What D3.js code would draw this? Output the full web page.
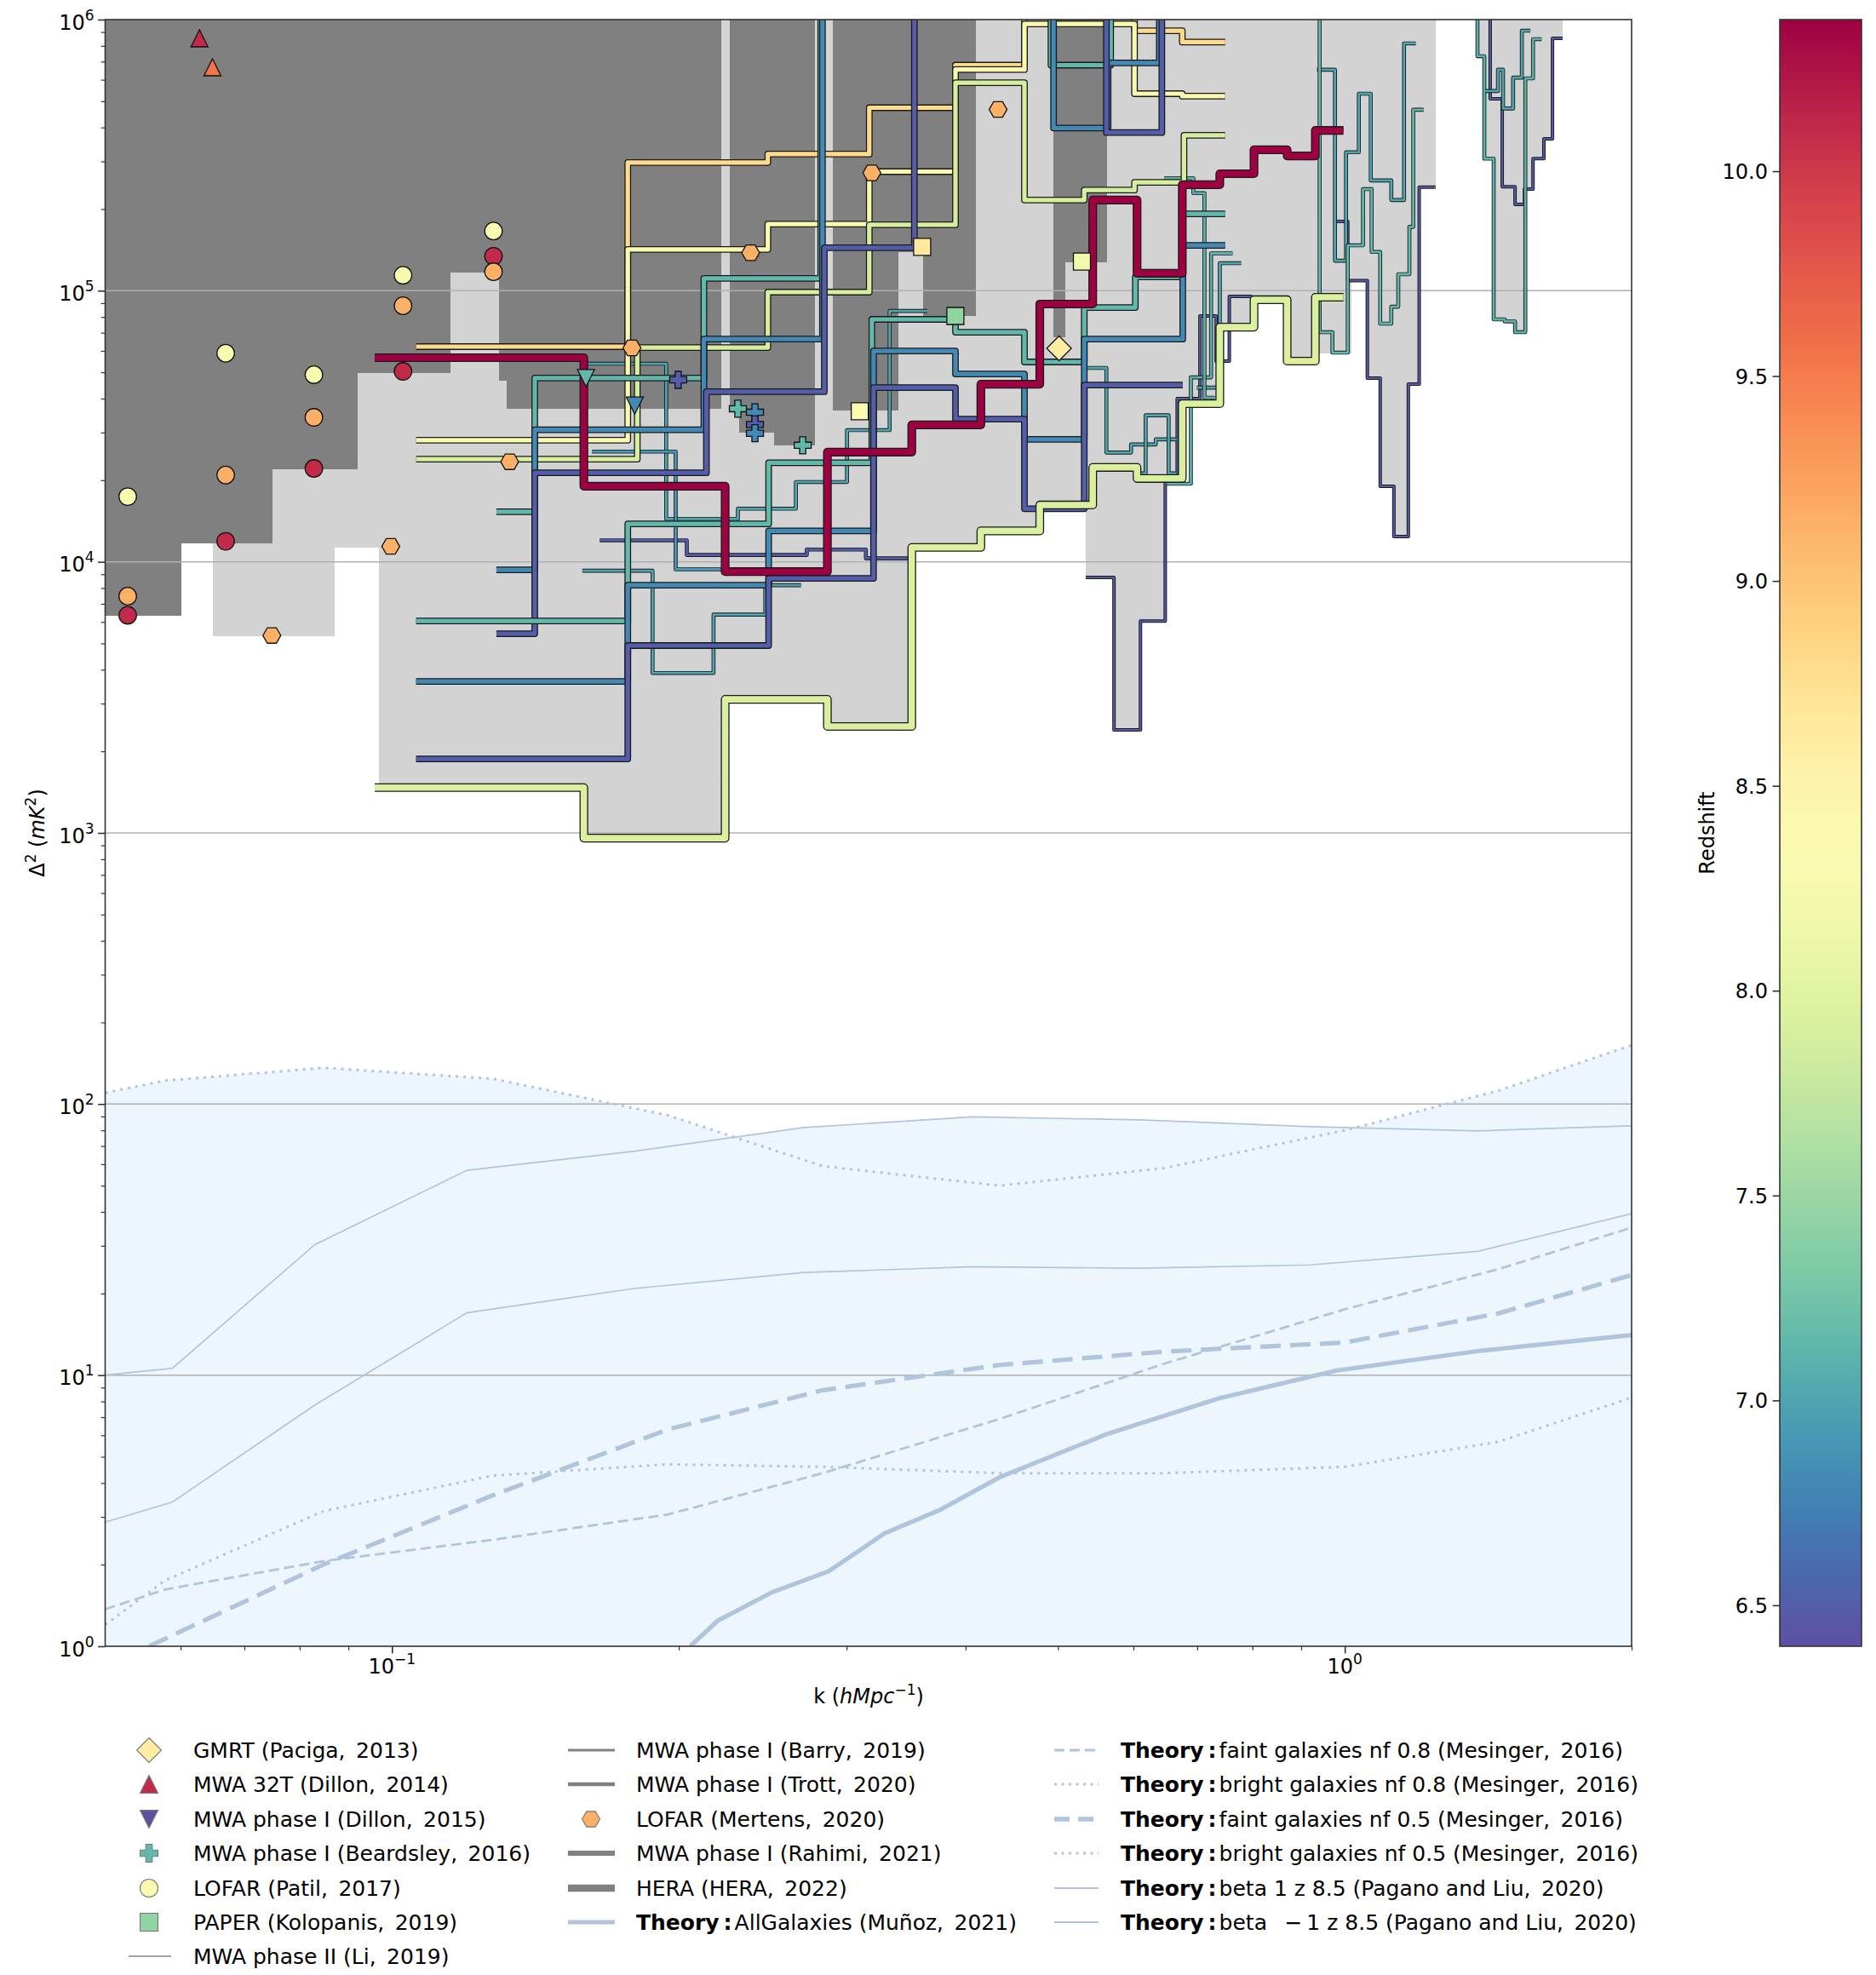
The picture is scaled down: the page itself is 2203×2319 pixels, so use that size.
<!DOCTYPE html>
<html>
<head>
<meta charset="utf-8">
<script src="https://cdn.jsdelivr.net/npm/d3@7"></script>
<style>
  body { margin: 0; background: #fff; }
  text { font-family: "DejaVu Sans", sans-serif; fill: #000; }
</style>
</head>
<body>
<svg id="chart"></svg>
<script>
// ---------------- data (k in h/Mpc, Delta^2 in mK^2) ----------------

// HERA 2022: shared k bin edges, two redshifts
const heraEdges = [0.0959, 0.159, 0.2237, 0.2864, 0.3512, 0.415, 0.4785, 0.5438, 0.6053, 0.6752, 0.7393, 0.803, 0.87, 0.9313, 0.9968];
const heraZ = [10.37, 7.93];
const heraHighZ = [5.66e4, 1.9e4, 9.2e3, 2.54e4, 3.2e4, 4.52e4, 8.93e4, 2.16e5, 1.16e5, 2.46e5, 2.7e5, 3.31e5, 3.14e5, 3.9e5];
const heraLowZ = [1.47e3, 957, 3.11e3, 2.47e3, 1.13e4, 1.3e4, 1.62e4, 2.23e4, 2.03e4, 3.83e4, 7.34e4, 9.26e4, 5.5e4, 9.46e4];

// MWA phase I (Rahimi, 2021): step limits, k = bin edges
const rahimiLines = [
  { z: 8.8,  k: [0.106, 0.1768, 0.248, 0.3169, 0.3903, 0.4611, 0.6016, 0.6752, 0.749], d2: [6.22e4, 2.97e5, 3.19e5, 4.73e5, 6.79e5, 1.5e6, 9.1e5, 8.26e5] },
  { z: 8.35, k: [0.106, 0.1768, 0.248, 0.3169, 0.3903, 0.4611, 0.6016, 0.6752, 0.749], d2: [2.81e4, 1.42e5, 1.76e5, 2.75e5, 6.54e5, 9.64e5, 5.33e5, 5.22e5] },
  { z: 7.9,  k: [0.106, 0.1809, 0.248, 0.3169, 0.3903, 0.4611, 0.5328, 0.6016, 0.678, 0.749], d2: [2.39e4, 6.17e4, 9.88e4, 1.75e5, 5.85e5, 2.16e5, 2.35e5, 2.51e5, 3.74e5] },
  { z: 7.15, k: [0.1287, 0.1412, 0.2125, 0.2818, 0.4916, 0.5679, 0.6016], d2: [1.53e4, 4.76e4, 1.11e5, 1.5e6, 6.79e5, 1.5e6] },
  { z: 6.8,  k: [0.1287, 0.1412, 0.2125, 0.283, 0.304], d2: [9.34e3, 3.07e4, 6.63e4, 1.5e6] },
  { z: 6.5,  k: [0.1287, 0.1412, 0.2138, 0.2843, 0.3534, 0.3737], d2: [5.43e3, 2.13e4, 4.24e4, 1.44e5, 1.5e6] },
  { z: 7.15, k: [0.106, 0.1768, 0.2485, 0.3189, 0.3903, 0.4611, 0.5328, 0.6028, 0.676, 0.749], d2: [6.05e3, 1.38e4, 2.32e4, 7.84e4, 7.03e4, 5.46e4, 8.67e4, 1.125e5, 1.92e5] },
  { z: 6.8,  k: [0.106, 0.1768, 0.2485, 0.3202, 0.3903, 0.4611, 0.5328, 0.676, 0.749], d2: [3.62e3, 8.2e3, 1.3e4, 5.99e4, 4.93e4, 2.83e4, 6.63e4, 1.47e5] },
  { z: 6.5,  k: [0.106, 0.1768, 0.2485, 0.3202, 0.3903, 0.4611, 0.5328, 0.676], d2: [1.875e3, 4.91e3, 8.69e3, 4.39e4, 3.36e4, 1.57e4, 4.49e4] },
  { z: 6.8,  k: [0.485, 0.4947, 0.5644, 0.6387, 0.65], d2: [1.5e6, 3.98e5, 6.92e5, 1.5e6] },
  { z: 6.5,  k: [0.55, 0.5621, 0.6427, 0.655], d2: [1.5e6, 3.83e5, 1.5e6] }
];

// MWA phase I (Trott, 2020 / Barry, 2019): thinner step limits
const trottLines = [
  { z: 7.0,  k: [0.1605, 0.194, 0.2307, 0.2654, 0.3003, 0.3329, 0.3646], d2: [5.38e4, 1.44e4, 1.57e4, 1.97e4, 3.06e4, 8.42e4] },
  { z: 6.5,  k: [0.1652, 0.2039, 0.2725, 0.3143, 0.3491], d2: [1.2e4, 1.06e4, 1.11e4, 1.03e4] },
  { z: 7.0,  k: [0.1584, 0.1877, 0.2175, 0.2465, 0.2687], d2: [9.27e3, 3.89e3, 6.39e3, 8.2e3] },
  { z: 6.9,  k: [0.1622, 0.1985, 0.2228], d2: [2.55e4, 9.38e3] },
  { z: 7.1,  k: [0.6506, 0.6894, 0.7239, 0.7626], d2: [1.94e4, 4.79e4, 1.373e5] },
  { z: 7.0,  k: [0.6994, 0.7393, 0.7785], d2: [4.39e4, 1.263e5] },
  { z: 7.1,  k: [0.6467, 0.6936, 0.7124, 0.7303], d2: [2.6e5, 2.29e5, 4.03e4] },
  { z: 7.0,  k: [0.5371, 0.5621, 0.5966, 0.6334, 0.6656], d2: [5.19e4, 2.53e4, 2.71e4, 2.83e4] },
  { z: 7.0,  k: [0.6004, 0.618, 0.6533, 0.6656], d2: [2.12e4, 3.47e4, 2.12e4] },
  { z: 7.0,  k: [0.9352, 0.9766, 1.003, 1.0346, 1.0648, 1.119, 1.154, 1.187], d2: [6.53e5, 1.29e5, 3.24e5, 5.33e5, 2.55e5, 2.16e5, 8.17e5] },
  { z: 7.15, k: [0.9256, 0.941, 0.9706, 1.0072, 1.045, 1.067, 1.0894, 1.119, 1.138, 1.169, 1.18, 1.21], d2: [1.5e6, 7.03e4, 5.91e4, 1.47e5, 2.37e5, 1.39e5, 7.56e4, 8.73e4, 1.15e5, 1.72e5, 4.65e5] },
  { z: 7.1,  k: [1.36, 1.378, 1.401, 1.433, 1.472, 1.509, 1.547, 1.576, 1.609], d2: [1.5e6, 7.33e5, 3.07e5, 7.84e4, 7.7e4, 7.03e4, 6.07e5, 8.47e5] },
  { z: 7.0,  k: [1.404, 1.448, 1.466, 1.502, 1.534, 1.566], d2: [5.45e5, 6.53e5, 4.7e5, 6.11e5, 9.1e5] }
];

// MWA phase II (Li, 2019): thin step limits
const liLines = [
  { z: 6.5, k: [0.5347, 0.5725, 0.6103, 0.648, 0.667, 0.7047, 0.7328, 0.7565, 0.7996], d2: [8.76e3, 2.4e3, 6.05e3, 1.94e4, 4.0e4, 8.07e4, 5.5e4, 9.53e4] },
  { z: 6.5, k: [0.9766, 1.0072, 1.056, 1.0894, 1.126, 1.166, 1.197, 1.245], d2: [1.8e5, 1.09e5, 4.76e4, 1.9e4, 1.24e4, 4.52e4, 2.41e5] },
  { z: 6.5, k: [1.398, 1.421, 1.463, 1.509, 1.544, 1.576, 1.618, 1.652, 1.693], d2: [1.5e6, 5.1e5, 2.42e5, 2.08e5, 2.37e5, 3.07e5, 3.63e5, 8.53e5] }
];

// excluded regions (filled from the limit up to the top), null = no fill
const darkEdges = [0.05, 0.06, 0.0749, 0.092, 0.1151, 0.1295, 0.1319, 0.2214, 0.226, 0.2315, 0.2516, 0.2777, 0.2903, 0.34, 0.3609, 0.41, 0.4947, 0.5081, 0.5621];
const darkLow = [6.32e3, 1.17e4, 2.19e4, 4.97e4, 1.17e5, 4.66e4, 3.67e4, null, 3.67e4, 2.99e4, 2.69e4, null, 3.61e4, 1.39e5, 8.07e4, null, 6.73e4, 1.27e5];
const lightEdges = [0.0649, 0.087, 0.0968, 0.159, 0.2237, 0.2864, 0.3512, 0.415, 0.4785, 0.5347, 0.5725, 0.6103, 0.648, 0.6794, 0.7423, 0.7996, 0.87, 0.9313, 1.0155, 1.054, 1.087, 1.126, 1.161, 1.197, 1.245, 1.374, 1.401, 1.433, 1.509, 1.547, 1.576, 1.618, 1.652, 1.69];
const lightLow = [5.31e3, 1.13e4, 1.47e3, 957, 3.11e3, 2.47e3, 1.13e4, 1.3e4, 1.62e4, 8.76e3, 2.4e3, 6.05e3, 1.94e4, 3.77e4, 7.34e4, 9.26e4, 5.5e4, 5.87e4, 1.09e5, 4.76e4, 1.9e4, 1.24e4, 4.49e4, 2.41e5, null, 7.17e5, 3.07e5, 7.7e4, 7.03e4, 2.37e5, 3.07e5, 3.63e5, 8.53e5];

// point measurements
const gmrtK = [0.5013], gmrtD2 = [6.13e4], gmrtZ = [8.6];
const dillon14K = [0.0628, 0.0648], dillon14D2 = [8.53e5, 6.67e5], dillon14Z = [10.1, 9.55];
const dillon15K = [0.1598, 0.1798], dillon15D2 = [4.76e4, 3.77e4], dillon15Z = [7.15, 6.8];
const beardsleyK = [0.1997, 0.2307, 0.2404, 0.2404, 0.2404, 0.2698];
const beardsleyD2 = [4.69e4, 3.67e4, 3.56e4, 3.21e4, 2.98e4, 2.69e4];
const beardsleyZ = [6.5, 7.15, 6.8, 6.5, 6.8, 7.15];
const patilK = [0.0528, 0.0528, 0.0528, 0.0669, 0.0669, 0.0669, 0.0828, 0.0828, 0.0828, 0.1027, 0.1027, 0.1027, 0.1278, 0.1278, 0.1278];
const patilD2 = [1.74e4, 7.47e3, 6.35e3, 5.88e4, 2.09e4, 1.19e4, 4.9e4, 3.41e4, 2.21e4, 1.14e5, 8.8e4, 5.04e4, 1.66e5, 1.34e5, 1.175e5];
const patilZ = [8.3, 9.15, 10.1, 8.3, 9.15, 10.1, 8.3, 9.15, 10.1, 8.3, 9.15, 10.1, 8.3, 10.1, 9.15];
const paperK = [0.3097, 0.3601, 0.3902, 0.5298], paperD2 = [3.59e4, 1.45e5, 8.07e4, 1.28e5], paperZ = [8.37, 8.65, 7.45, 8.2];
const mertensK = [0.0748, 0.0997, 0.1329, 0.1786, 0.2379, 0.3189, 0.4326];
const mertensD2 = [5.35e3, 1.14e4, 2.34e4, 6.15e4, 1.38e5, 2.72e5, 4.66e5];
const mertensZ = [9.15, 9.15, 9.15, 9.15, 9.15, 9.15, 9.15];

// theory curves
const thGridK = [0.05, 0.0578, 0.0847, 0.1275, 0.1946, 0.2832, 0.434, 0.6452, 1.0, 1.45, 2.0];
const brightNf08 = [110, 122, 136, 124, 91, 59, 50, 58, 80, 112, 165];
const brightNf05 = [1.2, 1.75, 3.15, 4.26, 4.69, 4.59, 4.35, 4.35, 4.59, 5.68, 8.26];
const faintNf08 = [1.37, 1.62, 2.06, 2.47, 3.06, 4.35, 6.89, 11.0, 17.5, 24.6, 35.0];
const faintNf05K = [0.0556, 0.0847, 0.1275, 0.1946, 0.2832, 0.434, 0.6452, 1.0, 1.45, 2.0];
const faintNf05 = [1.0, 2.0, 3.6, 6.3, 8.8, 10.9, 12.2, 13.2, 16.9, 23.4];
const allGalK = [0.2056, 0.2196, 0.2503, 0.2873, 0.3289, 0.3764, 0.4341, 0.5632, 0.7372, 0.98, 1.388, 2.0];
const allGal = [1.0, 1.24, 1.58, 1.89, 2.61, 3.19, 4.2, 6.07, 8.21, 10.4, 12.3, 14.05];
const paganoK = [0.05, 0.0588, 0.083, 0.1199, 0.18, 0.2707, 0.4068, 0.6092, 0.9185, 1.378, 2.0];
const betaP1 = [10.0, 10.6, 30.3, 57.0, 67.0, 81.9, 89.7, 87.4, 82.5, 79.6, 83.1];
const betaM1 = [2.87, 3.4, 7.76, 17.0, 20.9, 23.9, 25.1, 24.8, 25.5, 28.6, 39.4];

// legend labels
const legendCol1 = ["GMRT (Paciga, 2013)", "MWA 32T (Dillon, 2014)", "MWA phase I (Dillon, 2015)", "MWA phase I (Beardsley, 2016)", "LOFAR (Patil, 2017)", "PAPER (Kolopanis, 2019)", "MWA phase II (Li, 2019)"];
const legendCol2 = ["MWA phase I (Barry, 2019)", "MWA phase I (Trott, 2020)", "LOFAR (Mertens, 2020)", "MWA phase I (Rahimi, 2021)", "HERA (HERA, 2022)", "AllGalaxies (Mu\u00f1oz, 2021)"];
const legendCol3 = ["faint galaxies nf 0.8 (Mesinger, 2016)", "bright galaxies nf 0.8 (Mesinger, 2016)", "faint galaxies nf 0.5 (Mesinger, 2016)", "bright galaxies nf 0.5 (Mesinger, 2016)", "beta 1 z 8.5 (Pagano and Liu, 2020)", "beta \u2002\u2212\u20091 z 8.5 (Pagano and Liu, 2020)"];
const zTicks = [6.5, 7.0, 7.5, 8.0, 8.5, 9.0, 9.5, 10.0];

// ---------------- drawing ----------------
const svg = d3.select("#chart").attr("width", 2203).attr("height", 2319);
const box = { left: 123.5, right: 1916, top: 23, bottom: 1933 };

const x = d3.scaleLog().domain([0.05, 2]).range([box.left, box.right]);
const y = d3.scaleLog().domain([1, 1e6]).range([box.bottom, box.top]);
const zMin = 6.4, zMax = 10.37;
const zColor = z => d3.interpolateSpectral(1 - (z - zMin) / (zMax - zMin));
const theoryColor = "#b0c4de";

const defs = svg.append("defs");
defs.append("clipPath").attr("id", "plotClip").append("rect")
    .attr("x", box.left).attr("y", box.top)
    .attr("width", box.right - box.left).attr("height", box.bottom - box.top);

const plot = svg.append("g").attr("clip-path", "url(#plotClip)");

// theory shaded band (union of areas under each curve)
const theoryCurves = [
  { k: thGridK, v: brightNf08, w: 3, dash: "3,6" },
  { k: thGridK, v: brightNf05, w: 3, dash: "3,6" },
  { k: thGridK, v: faintNf08, w: 2.8, dash: "12,6" },
  { k: faintNf05K, v: faintNf05, w: 5.2, dash: "24,11" },
  { k: allGalK, v: allGal, w: 5.2, dash: null },
  { k: paganoK, v: betaP1, w: 1.7, dash: null },
  { k: paganoK, v: betaM1, w: 1.7, dash: null }
];
const area = d3.area().x(d => x(d[0])).y0(y(1)).y1(d => y(d[1]));
theoryCurves.forEach(c => {
  plot.append("path").datum(d3.zip(c.k, c.v)).attr("d", area).attr("fill", "#eef6fd");
});

// excluded regions
function fillRegion(edges, lows, color) {
  lows.forEach((lo, i) => {
    if (lo == null) return;
    plot.append("rect")
        .attr("x", x(edges[i]))
        .attr("width", x(edges[i + 1]) - x(edges[i]) + 0.5)
        .attr("y", y(1e6))
        .attr("height", y(lo) - y(1e6))
        .attr("fill", color)
        .attr("shape-rendering", "crispEdges");
  });
}
fillRegion(lightEdges, lightLow, "#d3d3d3");
fillRegion(darkEdges, darkLow, "#808080");

// horizontal grid
[10, 100, 1e3, 1e4, 1e5].forEach(v => {
  plot.append("line").attr("x1", box.left).attr("x2", box.right)
      .attr("y1", y(v)).attr("y2", y(v))
      .attr("stroke", "#b0b0b0").attr("stroke-width", 1.5);
});

// theory lines
const line = d3.line().x(d => x(d[0])).y(d => y(d[1]));
theoryCurves.forEach(c => {
  plot.append("path").datum(d3.zip(c.k, c.v)).attr("d", line)
      .attr("fill", "none").attr("stroke", theoryColor)
      .attr("stroke-width", c.w)
      .attr("stroke-dasharray", c.dash);
});

// step limits (black edge under a redshift-coloured core)
const stepLine = d3.line().x(d => x(d[0])).y(d => y(d[1])).curve(d3.curveStepAfter);
function drawStep(edges, vals, z, w, edge) {
  const pts = vals.map((v, i) => [edges[i], v]);
  pts.push([edges[edges.length - 1], vals[vals.length - 1]]);
  const d = stepLine(pts);
  const g = plot.append("g");
  g.append("path").attr("d", d).attr("fill", "none").attr("stroke", "#1a1a1a")
      .attr("stroke-width", w + edge).attr("stroke-linejoin", "round");
  g.append("path").attr("d", d).attr("fill", "none").attr("stroke", zColor(z))
      .attr("stroke-width", w).attr("stroke-linejoin", "round");
}
liLines.forEach(l => drawStep(l.k, l.d2, l.z, 2, 2));
trottLines.forEach(l => drawStep(l.k, l.d2, l.z, 2.8, 1.8));
rahimiLines.forEach(l => drawStep(l.k, l.d2, l.z, 5.2, 2.6));
drawStep(heraEdges, heraLowZ, heraZ[1], 7.6, 2.6);
drawStep(heraEdges, heraHighZ, heraZ[0], 7.6, 2.6);

// marker shapes
function polyPath(pts) { return "M" + pts.map(p => p.join(",")).join("L") + "Z"; }
const shapes = {
  circle: r => d3.symbol(d3.symbolCircle, Math.PI * r * r)(),
  triUp: r => polyPath([[0, -r], [r, r], [-r, r]]),
  triDown: r => polyPath([[0, r], [r, -r], [-r, -r]]),
  square: r => polyPath([[-r, -r], [r, -r], [r, r], [-r, r]]),
  diamond: r => polyPath([[0, -r], [r, 0], [0, r], [-r, 0]]),
  hexagon: r => polyPath(d3.range(6).map(i => [r * Math.cos(i * Math.PI / 3), r * Math.sin(i * Math.PI / 3)])),
  plus: r => { const t = r * 0.36; return polyPath([[-t, -r], [t, -r], [t, -t], [r, -t], [r, t], [t, t], [t, r], [-t, r], [-t, t], [-r, t], [-r, -t], [-t, -t]]); }
};

function drawPoints(ks, vs, zs, shape) {
  ks.forEach((k, i) => {
    plot.append("path").attr("d", shape)
        .attr("transform", `translate(${x(k)},${y(vs[i])})`)
        .attr("fill", zColor(zs[i])).attr("stroke", "#111").attr("stroke-width", 1.3);
  });
}
drawPoints(patilK, patilD2, patilZ, shapes.circle(10.3));
drawPoints(dillon14K, dillon14D2, dillon14Z, shapes.triUp(10));
drawPoints(mertensK, mertensD2, mertensZ, shapes.hexagon(10.5));
drawPoints(dillon15K, dillon15D2, dillon15Z, shapes.triDown(10));
drawPoints(beardsleyK, beardsleyD2, beardsleyZ, shapes.plus(10));
drawPoints(paperK, paperD2, paperZ, shapes.square(10));
drawPoints(gmrtK, gmrtD2, gmrtZ, shapes.diamond(14.5));

// ---------------- axes ----------------
const axisColor = "#333";
const axes = svg.append("g");
axes.append("rect").attr("x", box.left).attr("y", box.top)
    .attr("width", box.right - box.left).attr("height", box.bottom - box.top)
    .attr("fill", "none").attr("stroke", axisColor).attr("stroke-width", 1.6);

const xMinor = [0.06, 0.07, 0.08, 0.09, 0.2, 0.3, 0.4, 0.5, 0.6, 0.7, 0.8, 0.9, 2];
const yMajor = d3.range(0, 7).map(e => Math.pow(10, e));
const yMinor = [];
for (let e = 0; e < 6; e++) for (let m = 2; m < 10; m++) yMinor.push(m * Math.pow(10, e));

function styleAxis(g) {
  g.select(".domain").remove();
  g.selectAll("line").attr("stroke", axisColor).attr("stroke-width", 1.6);
}
axes.append("g").attr("transform", `translate(0,${box.bottom})`)
    .call(d3.axisBottom(x).tickValues([0.1, 1]).tickSize(8.4).tickFormat(""))
    .call(styleAxis);
axes.append("g").attr("transform", `translate(0,${box.bottom})`)
    .call(d3.axisBottom(x).tickValues(xMinor).tickSize(4.8).tickFormat(""))
    .call(g => { styleAxis(g); g.selectAll("line").attr("stroke-width", 1.2); });
axes.append("g").attr("transform", `translate(${box.left},0)`)
    .call(d3.axisLeft(y).tickValues(yMajor).tickSize(8.4).tickFormat(""))
    .call(styleAxis);
axes.append("g").attr("transform", `translate(${box.left},0)`)
    .call(d3.axisLeft(y).tickValues(yMinor).tickSize(4.8).tickFormat(""))
    .call(g => { styleAxis(g); g.selectAll("line").attr("stroke-width", 1.2); });

function tenPower(px, py, exp, anchor) {
  const t = axes.append("text").attr("x", px).attr("y", py)
      .attr("text-anchor", anchor).attr("font-size", 24);
  t.append("tspan").text("10");
  t.append("tspan").attr("dy", -11).attr("font-size", 17).text(exp);
}
yMajor.forEach((v, i) => tenPower(box.left - 13, y(v) + 11.5, String(i), "end"));
tenPower(x(0.1), 1965, "\u22121", "middle");
tenPower(x(1), 1965, "0", "middle");

// axis titles
const xt = axes.append("text").attr("x", 1020).attr("y", 2000)
    .attr("text-anchor", "middle").attr("font-size", 24);
xt.append("tspan").text("k (");
xt.append("tspan").attr("font-style", "italic").text("hMpc");
xt.append("tspan").attr("dy", -10).attr("font-size", 17).text("\u22121");
xt.append("tspan").attr("dy", 10).text(")");

const yt = axes.append("text").attr("transform", "translate(52,978) rotate(-90)")
    .attr("text-anchor", "middle").attr("font-size", 24);
yt.append("tspan").text("\u0394");
yt.append("tspan").attr("dy", -10).attr("font-size", 17).text("2");
yt.append("tspan").attr("dy", 10).text(" (");
yt.append("tspan").attr("font-style", "italic").text("mK");
yt.append("tspan").attr("dy", -10).attr("font-size", 17).text("2");
yt.append("tspan").attr("dy", 10).text(")");

// ---------------- colorbar ----------------
const cb = { left: 2090, right: 2186 };
const zScale = d3.scaleLinear().domain([zMin, zMax]).range([box.bottom, box.top]);
const grad = defs.append("linearGradient").attr("id", "zGrad")
    .attr("x1", 0).attr("y1", 1).attr("x2", 0).attr("y2", 0);
d3.range(0, 1.0001, 0.02).forEach(t => {
  grad.append("stop").attr("offset", t).attr("stop-color", zColor(zMin + t * (zMax - zMin)));
});
svg.append("rect").attr("x", cb.left).attr("y", box.top)
    .attr("width", cb.right - cb.left).attr("height", box.bottom - box.top)
    .attr("fill", "url(#zGrad)").attr("stroke", axisColor).attr("stroke-width", 1.6);
const cbAxis = svg.append("g").attr("transform", `translate(${cb.left},0)`)
    .call(d3.axisLeft(zScale).tickValues(zTicks).tickSize(8.4).tickFormat(d3.format(".1f")))
    .call(styleAxis);
cbAxis.selectAll("text").attr("font-size", 24).attr("x", -14).attr("dy", "0.36em")
    .style("font-family", "DejaVu Sans");
svg.append("text").attr("transform", "translate(2013,978) rotate(-90)")
    .attr("text-anchor", "middle").attr("font-size", 24).text("Redshift");

// ---------------- legend ----------------
const rowY = [2055, 2095, 2136, 2176, 2217, 2257, 2297];
const legFont = 25;
const wide = s => s.replace(", ", ",\u2002");
const leg = svg.append("g");
const legMarkers = [
  { s: shapes.diamond(14.5), z: 8.6 },
  { s: shapes.triUp(10.5), z: 10.1 },
  { s: shapes.triDown(10.5), z: 6.4 },
  { s: shapes.plus(10.5), z: 7.15 },
  { s: shapes.circle(10.5), z: 8.35 },
  { s: shapes.square(10.5), z: 7.45 }
];
legendCol1.forEach((lab, i) => {
  if (i < legMarkers.length) {
    leg.append("path").attr("d", legMarkers[i].s).attr("transform", `translate(175,${rowY[i]})`)
        .attr("fill", zColor(legMarkers[i].z)).attr("stroke", "#777").attr("stroke-width", 1.1);
  } else {
    leg.append("line").attr("x1", 151).attr("x2", 201).attr("y1", rowY[i]).attr("y2", rowY[i])
        .attr("stroke", "#808080").attr("stroke-width", 1.6);
  }
  leg.append("text").attr("x", 227).attr("y", rowY[i] + 9).attr("font-size", legFont).text(wide(lab));
});

const col2Width = [3, 4.5, null, 6, 8.5, 5];
legendCol2.forEach((lab, i) => {
  if (i === 2) {
    leg.append("path").attr("d", shapes.hexagon(10.5)).attr("transform", `translate(694,${rowY[i]})`)
        .attr("fill", zColor(9.15)).attr("stroke", "#777").attr("stroke-width", 1.1);
  } else {
    leg.append("line").attr("x1", 667).attr("x2", 722).attr("y1", rowY[i]).attr("y2", rowY[i])
        .attr("stroke", i === 5 ? theoryColor : "#808080").attr("stroke-width", col2Width[i]);
  }
  const t = leg.append("text").attr("x", 747).attr("y", rowY[i] + 9).attr("font-size", legFont);
  if (i === 5) {
    t.append("tspan").attr("font-weight", "bold").text("Theory\u2009:");
    t.append("tspan").attr("dx", 3).text(wide(lab));
  } else {
    t.text(wide(lab));
  }
});

const col3Style = [
  { w: 3, dash: "12,6" }, { w: 3, dash: "3,5.5" }, { w: 5.5, dash: "18,10" },
  { w: 3, dash: "3,5.5" }, { w: 1.8, dash: null }, { w: 1.8, dash: null }
];
legendCol3.forEach((lab, i) => {
  leg.append("line").attr("x1", 1238).attr("x2", 1290).attr("y1", rowY[i]).attr("y2", rowY[i])
      .attr("stroke", theoryColor).attr("stroke-width", col3Style[i].w)
      .attr("stroke-dasharray", col3Style[i].dash);
  const t = leg.append("text").attr("x", 1316).attr("y", rowY[i] + 9).attr("font-size", legFont);
  t.append("tspan").attr("font-weight", "bold").text("Theory\u2009:");
  t.append("tspan").attr("dx", 3).text(wide(lab));
});
</script>
</body>
</html>
